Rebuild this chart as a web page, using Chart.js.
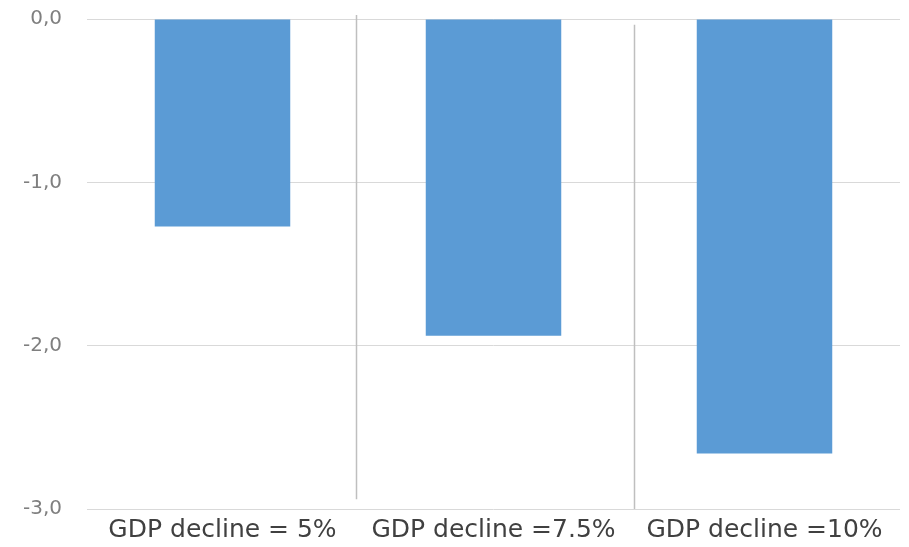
<!DOCTYPE html>
<html>
<head>
<meta charset="utf-8">
<script src="https://cdn.jsdelivr.net/npm/chart.js@4"></script>
<style>
  html, body { margin: 0; padding: 0; background: #fff; }
  #wrap { width: 909px; height: 547px; }
</style>
</head>
<body>
<div id="wrap"><canvas id="c" width="909" height="547"></canvas></div>
<script>
const categories = ['GDP decline = 5%', 'GDP decline =7.5%', 'GDP decline =10%'];
const values = [-1.27, -1.94, -2.66];
const yTicks = [0, -1, -2, -3];

// thin vertical separators between the scenario groups (hand-drawn look: uneven ends)
const separators = {
  id: 'separators',
  afterDatasetsDraw(chart) {
    const { ctx, scales: { x, y } } = chart;
    const spans = [[0.025, -2.94], [-0.035, -3.0]];
    const shifts = [-1.5, 5.5];
    ctx.save();
    ctx.strokeStyle = '#bfbfbf';
    ctx.lineWidth = 1.5;
    for (let i = 0; i < categories.length - 1; i++) {
      const px = Math.round((x.getPixelForValue(i) + x.getPixelForValue(i + 1)) / 2) + shifts[i];
      ctx.beginPath();
      ctx.moveTo(px, y.getPixelForValue(spans[i][0]));
      ctx.lineTo(px, y.getPixelForValue(spans[i][1]));
      ctx.stroke();
    }
    ctx.restore();
  }
};

new Chart(document.getElementById('c'), {
  type: 'bar',
  data: {
    labels: categories,
    datasets: [{
      data: values,
      backgroundColor: '#5B9BD5',
      borderWidth: 0,
      categoryPercentage: 1,
      barPercentage: 0.5
    }]
  },
  options: {
    responsive: false,
    animation: false,
    layout: { padding: { top: 19, right: 9, left: 0, bottom: 0 } },
    plugins: { legend: { display: false }, tooltip: { enabled: false } },
    scales: {
      x: {
        grid: { display: false, drawTicks: false },
        border: { display: false },
        ticks: {
          color: '#404040',
          font: { family: 'DejaVu Sans', size: 25 },
          padding: 6,
          maxRotation: 0
        },
        afterFit(s) { s.height = 38; }
      },
      y: {
        min: -3,
        max: 0,
        afterBuildTicks(s) { s.ticks = yTicks.map(v => ({ value: v })); },
        grid: { color: '#d9d9d9', lineWidth: 1, drawTicks: false },
        border: { display: false },
        ticks: {
          color: '#7f7f7f',
          font: { family: 'DejaVu Sans', size: 20 },
          padding: 25,
          callback: v => v.toFixed(1).replace('.', ',')
        },
        afterFit(s) { s.width = 87; s.paddingTop = 0; s.paddingBottom = 0; }
      }
    }
  },
  plugins: [separators]
});
</script>
</body>
</html>
